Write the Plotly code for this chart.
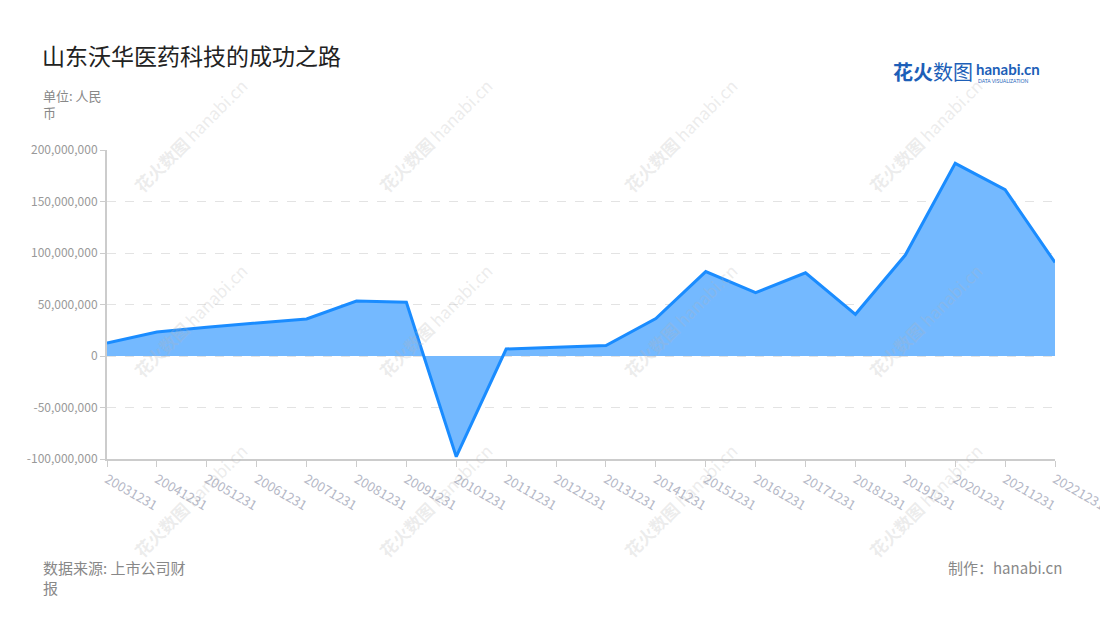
import plotly.graph_objects as go

# ---- data ----
dates = ["20031231", "20041231", "20051231", "20061231", "20071231", "20081231",
         "20091231", "20101231", "20111231", "20121231", "20131231", "20141231",
         "20151231", "20161231", "20171231", "20181231", "20191231", "20201231",
         "20211231", "20221231"]
profit = [12600000, 23300000, 28000000, 32000000, 36000000, 53400000,
          52200000, -97800000, 6800000, 8500000, 10200000, 36300000,
          82000000, 61500000, 80800000, 40500000, 98000000, 187000000,
          161500000, 90800000]
y_ticks = [-100000000, -50000000, 0, 50000000, 100000000, 150000000, 200000000]
y_tick_labels = [f"{v:,}" for v in y_ticks]

title_text = "山东沃华医药科技的成功之路"
unit_text = "单位: 人民<br>币"
source_text = "数据来源: 上市公司财<br>报"
maker_text = "制作：hanabi.cn"

FONT = "Noto Sans CJK SC, Noto Sans, sans-serif"

fig = go.Figure()
fig.add_trace(go.Scatter(
    x=dates, y=profit, mode="lines", fill="tozeroy",
    line=dict(color="#1a8cff", width=3),
    fillcolor="#74b9ff", hoverinfo="x+y", showlegend=False,
))

fig.update_layout(
    width=1100, height=620,
    margin=dict(l=107, r=45, t=150, b=161),
    paper_bgcolor="white", plot_bgcolor="white",
    font=dict(family=FONT),
    xaxis=dict(
        type="category", range=[0, 19], automargin=False,
        showgrid=False, zeroline=False,
        showline=True, linecolor="#cccccc", linewidth=2,
        ticks="outside", tickcolor="#cccccc", ticklen=6, tickwidth=1,
        tickangle=30, tickfont=dict(size=13, color="#b4b7c6"),
    ),
    yaxis=dict(
        range=[-100000000, 200000000], automargin=False,
        tickvals=y_ticks, ticktext=y_tick_labels,
        showgrid=True, gridcolor="#e3e3e3", griddash="dash", gridwidth=1,
        zeroline=False,
        showline=True, linecolor="#cccccc", linewidth=2,
        ticks="outside", tickcolor="#cccccc", ticklen=5,
        tickfont=dict(size=12, color="#999999"),
    ),
)

ann = []
ann.append(dict(text=title_text, x=40, y=55, showarrow=False, xanchor="left",
                yanchor="middle", font=dict(size=23, color="#222222", family=FONT)))
ann.append(dict(text=unit_text, x=41, y=104, showarrow=False, xanchor="left",
                yanchor="middle", align="left",
                font=dict(size=13, color="#888888", family=FONT)))
ann.append(dict(text=source_text, x=41, y=577, showarrow=False, xanchor="left",
                yanchor="middle", align="left",
                font=dict(size=15, color="#888888", family=FONT)))
ann.append(dict(text=maker_text, x=1064, y=567, showarrow=False, xanchor="right",
                yanchor="middle", font=dict(size=15, color="#888888", family=FONT)))
# logo
ann.append(dict(text="<b>花火</b>数图", x=891, y=72, showarrow=False, xanchor="left",
                yanchor="middle", font=dict(size=20, color="#1d5fb8", family=FONT)))
ann.append(dict(text="<b>hanabi.cn</b>", x=974, y=69, showarrow=False, xanchor="left",
                yanchor="middle", font=dict(size=15, color="#1d5fb8", family="Lato, sans-serif")))
ann.append(dict(text="DATA VISUALIZATION", x=976, y=81, showarrow=False, xanchor="left",
                yanchor="middle", font=dict(size=5, color="#1d5fb8", family="Lato, sans-serif")))

# watermarks
for cx in [190, 435, 680, 925]:
    for cy in [135, 320, 500]:
        ann.append(dict(text="<b>花火数图</b> hanabi.cn", x=cx, y=cy, showarrow=False,
                        textangle=-45, xanchor="center", yanchor="middle",
                        font=dict(size=17, color="rgba(180,180,180,0.25)", family=FONT)))

# convert pixel coords to paper coords
pw, ph = 1100 - 107 - 45, 620 - 150 - 161
for a in ann:
    a["xref"] = "paper"; a["yref"] = "paper"
    a["x"] = (a["x"] - 107) / pw
    a["y"] = (620 - 161 - a["y"]) / ph
fig.update_layout(annotations=ann)

fig.write_html("out.html", config={"displayModeBar": False},
               post_script="document.body.style.margin='0';document.body.style.overflow='hidden';")
